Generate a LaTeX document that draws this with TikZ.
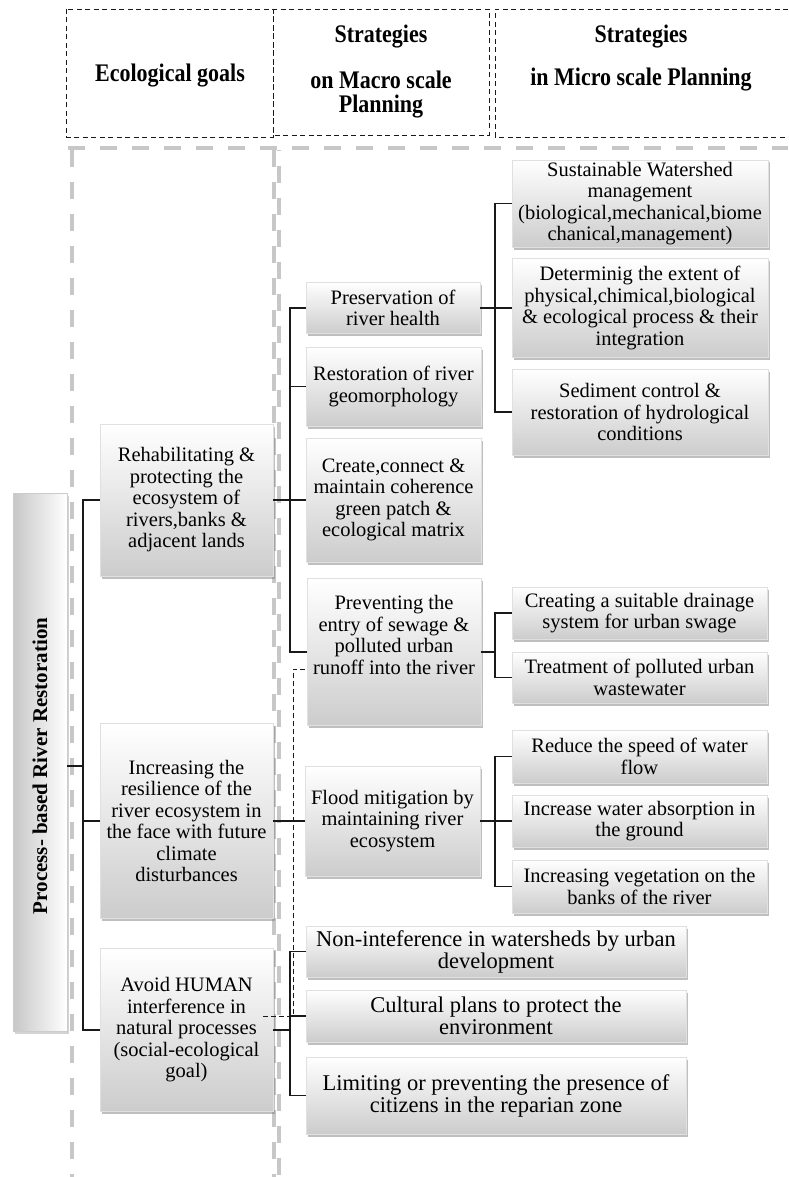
\documentclass[tikz,border=0pt]{standalone}
\usepackage{fontspec}
\setmainfont{Liberation Serif}
\usetikzlibrary{shadows,calc}
\tikzset{
  bx/.style={draw=black!12, line width=0.4pt, top color=white, bottom color=black!20,
    drop shadow={shadow xshift=1.5pt, shadow yshift=-2.5pt, opacity=0.5},
    align=center, inner sep=0pt, font=\fontsize{20.5}{21.5}\selectfont, text=black},
  bigtxt/.style={font=\fontsize{22.5}{22}\selectfont},
  btxt/.style={align=center, inner sep=0pt, font=\fontsize{20.5}{21.5}\selectfont, text=black},
  conn/.style={line width=1.5pt, draw=black!90},
  dconn/.style={line width=0.9pt, draw=black!90, dash pattern=on 5pt off 3pt},
  hdr/.style={draw=black!90, line width=0.9pt, dash pattern=on 5pt off 3.5pt},
  hdrtxt/.style={align=center, inner sep=0pt, font=\bfseries\fontsize{22}{26}\selectfont, text=black},
  gline/.style={draw=black!22, line width=4.5pt, dash pattern=on 17pt off 15pt},
  rootbx/.style={draw=black!20, line width=0.6pt, left color=black!22, right color=white,
    drop shadow={shadow xshift=1.5pt, shadow yshift=-2.5pt, opacity=0.35}},
}
\begin{document}
\begin{tikzpicture}[x=1pt, y=-1pt]
\useasboundingbox (0,0) rectangle (788,1177);

% header
\draw[hdr] (66,9) rectangle (273,137);
\draw[hdr] (273,9) rectangle (489,135);
\draw[hdr] (788,9) -- (495,9) -- (495,137) -- (788,137);
\node[hdrtxt, yscale=1.15] (h1) at (170,76) {Ecological goals};
\node[hdrtxt, yscale=1.15] (h2a) at (381,37) {Strategies};
\node[hdrtxt, yscale=1.15] (h2b) at (381,80) {on Macro scale};
\node[hdrtxt, yscale=1.15] (h2c) at (381,107) {Planning};
\node[hdrtxt, yscale=1.15] (h3a) at (641,37) {Strategies};
\node[hdrtxt, yscale=1.15] (h3b) at (641,80) {in Micro scale Planning};

% gray dashed guides
\draw[gline] (68,148) -- (788,148);
\draw[gline] (72,150) -- (72,1177);
\draw[gline] (274,150) -- (274,1177);
\draw[gline, dash phase=16pt] (279,150) -- (279,1177);

% root
\node[rootbx, minimum width=54pt, minimum height=538pt] (root) at (40,762) {};
\node[rotate=90, inner sep=0pt, font=\bfseries\fontsize{21}{24}\selectfont, text=black] (roottxt) at (40,766) {Process- based River Restoration};

% level 1
\node[bx, minimum width=173pt, minimum height=152pt] (rehab) at (186.5,500) {Rehabilitating \&\\ protecting the\\ ecosystem of\\ rivers,banks \&\\ adjacent lands};
\node[bx, minimum width=173pt, minimum height=195pt] (incr) at (186.5,821) {Increasing the\\ resilience of the\\ river ecosystem in\\ the face with future\\ climate\\ disturbances};
\node[bx, minimum width=173pt, minimum height=163pt] (avoid) at (186.5,1030) {Avoid HUMAN\\ interference in\\ natural processes\\ (social-ecological\\ goal)};

% level 2
\node[bx, minimum width=174pt, minimum height=51pt] (pres) at (393,308) {Preservation of\\ river health};
\node[bx, minimum width=175pt, minimum height=79pt] (rest) at (393.5,386.5) {Restoration of river\\ geomorphology};
\node[bx, minimum width=175pt, minimum height=124pt] (create) at (393.5,500) {Create,connect \&\\ maintain coherence\\ green patch \&\\ ecological matrix};
\node[bx, minimum width=174pt, minimum height=147pt] (prev) at (394,652) {};
\node[btxt] (prevtxt) at (394,635) {Preventing the\\ entry of sewage \&\\ polluted urban\\ runoff into the river};
\node[bx, minimum width=175pt, minimum height=110pt] (flood) at (392.5,821) {Flood mitigation by\\ maintaining river\\ ecosystem};
\node[bx, bigtxt, minimum width=380pt, minimum height=51pt] (non) at (496,951.5) {Non-inteference in watersheds by urban\\ development};
\node[bx, bigtxt, minimum width=380pt, minimum height=52pt] (cult) at (496,1016) {Cultural plans to protect the\\ environment};
\node[bx, bigtxt, minimum width=380pt, minimum height=77pt] (lim) at (496,1095.5) {Limiting or preventing the presence of\\ citizens in the reparian zone};

% level 3
\node[bx, minimum width=256pt, minimum height=87pt] (sust) at (640,203.5) {Sustainable Watershed\\ management\\ (biological,mechanical,biome\\ chanical,management)};
\node[bx, minimum width=256pt, minimum height=99pt] (det) at (640,308) {Determinig the extent of\\ physical,chimical,biological\\ \& ecological process \& their\\ integration};
\node[bx, minimum width=256pt, minimum height=86pt] (sed) at (640,412) {Sediment control \&\\ restoration of hydrological\\ conditions};
\node[bx, minimum width=255pt, minimum height=52pt] (creating) at (639.5,613) {Creating a suitable drainage\\ system for urban swage};
\node[bx, minimum width=255pt, minimum height=51pt] (treat) at (639.5,677.5) {Treatment of polluted urban\\ wastewater};
\node[bx, minimum width=255pt, minimum height=53pt] (reduce) at (639.5,756.5) {Reduce the speed of water\\ flow};
\node[bx, minimum width=255pt, minimum height=52pt] (incw) at (639.5,821) {Increase water absorption in\\ the ground};
\node[bx, minimum width=255pt, minimum height=53pt] (veg) at (639.5,886.5) {Increasing vegetation on the\\ banks of the river};

% connectors
\coordinate (r0) at (83,766);
\draw[conn] (root.east |- r0) -- (r0);
\draw[conn] (r0) |- (rehab.west);
\draw[conn] (r0) |- (incr.west);
\draw[conn] (r0) |- (avoid.west);

\coordinate (t2) at (290,500);
\draw[conn] (rehab.east) -- (create.west);
\draw[conn] (t2) |- (pres.west);
\draw[conn] (t2) |- (rest.west);
\draw[conn] (t2) |- (prev.west);

\coordinate (t3) at (495,308);
\draw[conn] (pres.east) -- (det.west);
\draw[conn] (t3) |- (sust.west);
\draw[conn] (t3) |- (sed.west);

\coordinate (t4) at (495,652);
\draw[conn] (prev.east) -- (t4);
\draw[conn] (t4) |- (creating.west);
\draw[conn] (t4) |- (treat.west);

\draw[conn] (incr.east) -- (flood.west);
\coordinate (t5) at (495,821);
\draw[conn] (flood.east) -- (t5);
\draw[conn] (t5) |- (reduce.west);
\draw[conn] (t5) |- (incw.west);
\draw[conn] (t5) |- (veg.west);

\coordinate (t6) at (290,1030);
\draw[conn] (avoid.east) -- (t6);
\draw[conn] (t6) |- (non.west);
\draw[conn] (t6) |- (cult.west);
\draw[conn] (t6) |- (lim.west);

\coordinate (d0) at (263,1016);
\draw[dconn] (d0) -- (293,1016) |- ($(prev.west)+(0,17)$);
\end{tikzpicture}
\end{document}
